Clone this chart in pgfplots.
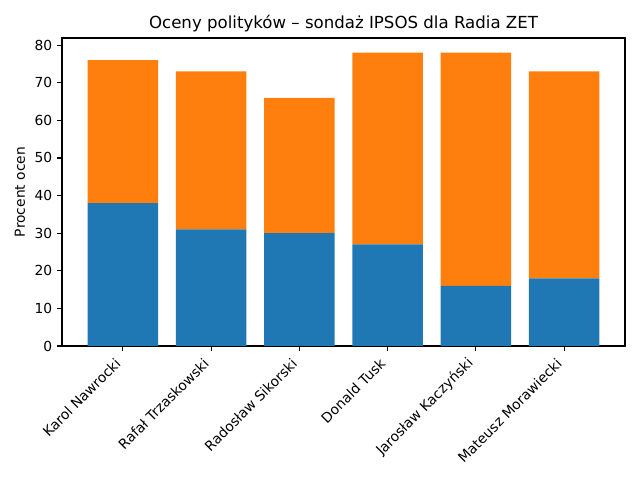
\documentclass[border=0pt]{standalone}
\usepackage{pgfplots}
\pgfplotsset{compat=1.18}
\usepackage{fontspec}
\setmainfont{DejaVu Sans}
\definecolor{mplblue}{HTML}{1F77B4}
\definecolor{mplorange}{HTML}{FF7F0E}
\begin{document}
\begin{tikzpicture}
\useasboundingbox (0,0) rectangle (6.4in,4.8in);
\begin{axis}[
  at={(0.62in,1.34in)}, anchor=south west,
  scale only axis,
  width=5.63in, height=3.08in,
  ybar stacked, bar width=0.8, bar shift=0pt,
  xmin=-0.69, xmax=5.69,
  ymin=0, ymax=81.9,
  xtick={0,1,2,3,4,5},
  xticklabels={Karol Nawrocki, Rafał Trzaskowski, Radosław Sikorski, Donald Tusk, Jarosław Kaczyński, Mateusz Morawiecki},
  xticklabel style={rotate=45, anchor=east, font=\fontsize{10}{12}\selectfont, xshift=-4.3pt, yshift=-2.7pt},
  ytick={0,10,20,30,40,50,60,70,80},
  yticklabel style={font=\fontsize{10}{12}\selectfont},
  /pgf/number format/assume math mode=true,
  tick align=outside, tick pos=left,
  major tick length=3.5pt,
  every tick/.style={black, line width=0.8pt},
  axis line style={line width=0.8pt},
  ylabel={Procent ocen},
  ylabel style={font=\fontsize{10}{12}\selectfont},
  title={Oceny polityków – sondaż IPSOS dla Radia ZET},
  title style={font=\fontsize{12}{14}\selectfont, yshift=-5pt},
]
\addplot[fill=mplblue, draw=none] coordinates {(0,38) (1,31) (2,30) (3,27) (4,16) (5,18)};
\addplot[fill=mplorange, draw=none] coordinates {(0,38) (1,42) (2,36) (3,51) (4,62) (5,55)};
\end{axis}
\end{tikzpicture}
\end{document}
